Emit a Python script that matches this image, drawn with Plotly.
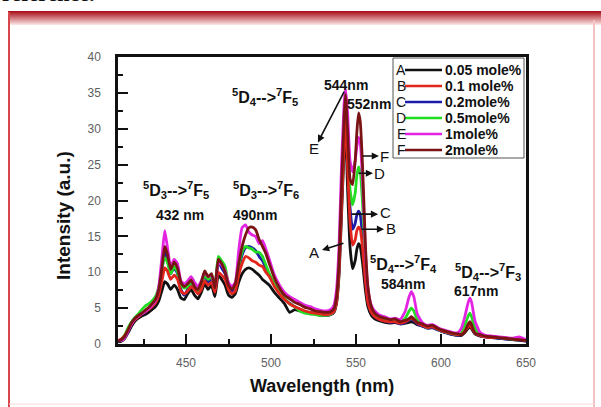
import plotly.graph_objects as go

# ---------------- data ----------------
wavelength = [410,412,414,416,418,420,422,424,426,428,430,432,434,436,437.5,439,441,443,445,447,
              449,451,453,455,457,459,461,463,465,467,469,471,473,475,477,479,481,483,485,487,
              489,491,493,495,497,499,502,505,508,511,514,517,520,523,526,529,532,535,537,538.5,
              540,541.5,543,543.8,545,546.5,548,549.5,550.5,551.5,552.5,554,555.5,557,559,561,
              564,567,570,573,576,579,581,582.5,584,586,589,592,595,598,601,604,607,610,612,614,
              616,617,618,620,623,626,630,634,638,642,646,650]

series_A = [0.3,0.4,0.8,1.6,2.5,3.2,3.6,3.9,4.1,4.4,4.8,5.2,6.0,7.6,8.7,8.4,7.6,8.2,7.6,6.4,
            6.2,7.0,7.6,6.8,6.3,7.2,8.4,7.6,8.2,6.6,9.6,9.0,8.2,6.8,6.5,7.0,8.6,9.8,10.4,10.6,
            10.4,10.0,9.6,9.0,8.6,8.2,7.2,6.4,5.6,4.4,4.8,4.6,4.4,4.2,4.2,4.0,4.0,4.1,4.4,5.6,
            9.5,18,27,30.5,22,13.5,10.5,11.6,13.2,14,13.6,11,7.6,5.2,4.0,3.5,
            3.2,3.0,2.9,3.0,2.8,2.9,3.0,3.1,3.0,2.7,2.5,2.2,2.3,2.0,1.7,1.5,1.3,1.2,1.2,1.6,
            2.2,2.4,2.1,1.4,1.1,1.0,0.9,0.8,0.7,0.6,0.5,0.4]

series_B = [0.5,0.7,1.2,2.0,2.8,3.4,3.8,4.2,4.5,4.8,5.2,5.7,6.8,9.0,10.6,10.2,9.0,9.6,9.0,7.4,
            7.0,7.4,8.0,7.6,7.0,7.6,8.8,8.2,8.6,7.2,10.0,9.6,9.0,7.6,7.0,7.4,9.6,11.2,12.2,12.0,
            11.6,11.4,11.0,10.8,10.0,9.4,8.0,7.0,6.2,5.6,5.2,4.9,4.6,4.4,4.3,4.2,4.1,4.2,4.5,5.8,
            10,19,28,31.5,25,17,13.8,14.5,15.8,16.3,16,13,8.8,5.8,4.4,3.8,
            3.4,3.2,3.1,3.1,2.9,3.1,3.4,3.6,3.4,2.9,2.6,2.3,2.4,2.1,1.8,1.6,1.4,1.3,1.3,1.8,
            2.4,2.6,2.3,1.5,1.2,1.0,0.9,0.9,0.8,0.7,0.6,0.5]

series_C = [0.4,0.5,1.0,1.9,2.9,3.5,3.9,4.3,4.6,5.0,5.4,6.0,7.4,10.6,12.8,12.0,9.8,10.6,9.8,7.6,
            6.8,7.6,8.6,7.8,7.2,8.2,9.6,8.6,9.0,7.4,11.4,10.6,9.8,8.0,7.4,8.0,10.4,12.4,13.4,13.6,
            13.4,13.0,12.2,11.6,10.6,9.6,8.2,7.2,6.2,5.7,5.2,4.8,4.5,4.4,4.2,4.1,4.0,4.1,4.5,6.0,
            10.5,20,29,32.5,27,19,16,16.8,18,18.5,18,14.5,9.5,6,4.4,3.8,
            3.4,3.2,3.0,3.1,2.8,3.0,3.3,3.5,3.3,2.8,2.5,2.2,2.3,2.0,1.7,1.5,1.3,1.2,1.3,1.9,
            2.6,2.8,2.5,1.5,1.2,1.0,0.9,0.8,0.7,0.7,0.6,0.4]

series_D = [0.4,0.7,1.3,2.3,3.1,3.7,4.2,4.8,5.3,5.6,6.0,6.6,8.0,10.8,12.0,11.4,9.8,10.8,10.0,8.2,
            7.8,8.0,8.6,8.0,7.4,8.2,9.6,9.0,9.4,8.0,12.2,11.6,10.8,8.4,7.8,8.0,10.8,12.8,13.6,13.4,
            13.2,12.8,12.8,12.2,11.0,9.8,8.4,7.2,6.4,5.6,5.2,4.6,4.3,4.2,4.1,4.0,4.0,4.1,4.6,6.2,
            11,21,30,33.5,29,21.5,19.4,21,23.5,24.7,24,19,11.5,6.8,4.8,4.0,
            3.6,3.4,3.2,3.3,3.0,3.6,4.5,5.0,4.6,3.4,2.7,2.3,2.5,2.1,1.8,1.6,1.4,1.3,1.5,2.6,
            3.9,4.3,3.8,2.2,1.3,1.1,1.0,0.9,0.8,0.7,0.7,0.5]

series_E = [0.5,0.5,0.9,1.8,2.8,3.5,3.9,4.2,4.5,4.9,5.4,6.0,8.0,12.5,15.8,13.6,10.8,11.8,11.2,8.8,
            8.4,8.8,9.4,8.6,8.0,8.8,10.0,9.4,9.6,8.0,11.4,11.0,10.2,8.6,8.0,8.6,13.0,16.2,16.6,15.6,
            15.2,15.0,14.0,14.4,13.2,11.8,9.6,8.2,7.2,6.6,6.2,5.8,5.4,5.2,4.9,4.7,4.6,4.8,5.4,7.5,
            13.5,25,33.5,35.6,32.5,25.5,24,25.5,27.5,28.8,28,22,13,7.8,5.4,4.6,
            4.0,3.8,3.5,3.6,3.4,4.6,6.4,7.3,6.6,4.2,3.0,2.6,2.7,2.3,2.0,1.8,1.6,1.6,2.2,3.8,
            5.8,6.4,5.8,3.2,1.6,1.2,1.1,1.0,0.9,0.8,1.0,0.6]

series_F = [0.4,0.6,1.1,2.0,3.0,3.6,4.0,4.3,4.7,5.1,5.6,6.2,7.6,11.0,13.6,12.6,10.4,11.4,10.6,8.6,
            8.0,8.4,8.9,8.0,7.6,8.6,10.2,9.4,9.8,7.8,11.8,11.2,10.0,8.2,7.6,8.4,11.2,13.6,15.2,16.2,
            16.3,15.9,14.6,13.6,12.6,11.2,9.2,7.8,6.8,6.3,5.8,5.5,5.1,4.9,4.6,4.5,4.4,4.5,4.9,6.5,
            11.5,22,31.5,34.8,30,23,22.2,25.5,29.5,32.2,31,24,14,8,5.2,4.3,
            3.8,3.6,3.4,3.5,3.1,3.3,3.5,3.8,3.5,3.0,2.8,2.5,2.6,2.2,1.9,1.7,1.5,1.4,1.3,1.7,
            2.8,3.1,2.7,1.5,1.3,1.1,1.0,0.9,0.8,0.7,0.6,0.5]

letters = ["A", "B", "C", "D", "E", "F"]
names = ["0.05 mole%", "0.1 mole%", "0.2mole%", "0.5mole%", "1mole%", "2mole%"]
colors = ["#111111", "#e3261d", "#1c1ca8", "#22dd22", "#e324e3", "#7a1414"]
all_series = [series_A, series_B, series_C, series_D, series_E, series_F]

x_ticks = [450, 500, 550, 600, 650]
y_ticks = [0, 5, 10, 15, 20, 25, 30, 35, 40]

# ---------------- geometry helpers ----------------
W, H = 601, 407
L, R, T, B = 118, 526, 57, 344


def px(p):
    return (p - L) / (R - L)


def py(p):
    return (B - p) / (B - T)


fig = go.Figure()
draw_order = [0, 2, 3, 1, 4, 5]
for i in draw_order:
    fig.add_trace(go.Scatter(x=wavelength, y=all_series[i], mode="lines", name=names[i],
                             line=dict(color=colors[i], width=2.8, shape="spline", smoothing=0.5),
                             showlegend=False))

FONT = "Arial, Liberation Sans, sans-serif"
ann = []
shapes = []


def tr(a, b, c, d):
    return "<b><sup>%s</sup>D<sub>%s</sub>--&gt;<sup>%s</sup>F<sub>%s</sub></b>" % (a, b, c, d)


labels = [
    (tr(5, 4, 7, 5), 496.5, 34.4, 16),
    (tr(5, 3, 7, 5), 444.0, 21.4, 16),
    ("<b>432 nm</b>", 446.5, 18.0, 14),
    (tr(5, 3, 7, 6), 497.0, 21.4, 16),
    ("<b>490nm</b>", 490.6, 18.0, 14),
    ("<b>544nm</b>", 544.1, 36.1, 14),
    ("<b>552nm</b>", 557.6, 33.4, 14),
    (tr(5, 4, 7, 4), 578.2, 11.1, 16),
    ("<b>584nm</b>", 577.6, 8.4, 14),
    (tr(5, 4, 7, 3), 627.6, 10.1, 16),
    ("<b>617nm</b>", 620.6, 7.4, 14),
]
for txt, xx, yy, fs in labels:
    ann.append(dict(x=xx, y=yy, xref="x", yref="y", text=txt, showarrow=False,
                    xanchor="center", yanchor="middle",
                    font=dict(family=FONT, size=fs, color="#111111")))

# arrows: (head_x, head_y, tail_x, tail_y, letter, letter_x, letter_y)
arrows = [
    (527.6, 28.1, 543.5, 35.4, "E", 525.5, 27.2),
    (563.5, 26.2, 553.0, 26.2, "F", 567.0, 26.2),
    (560.0, 23.8, 550.6, 23.8, "D", 563.8, 23.8),
    (563.0, 18.1, 546.5, 18.1, "C", 567.2, 18.3),
    (566.5, 16.0, 552.4, 16.0, "B", 570.4, 16.1),
    (530.0, 13.1, 543.5, 14.1, "A", 525.0, 12.8),
]
for hx, hy, tx, ty, lt, lx, ly in arrows:
    ann.append(dict(x=hx, y=hy, ax=tx, ay=ty, xref="x", yref="y", axref="x", ayref="y",
                    text="", showarrow=True, arrowhead=2, arrowsize=0.9, arrowwidth=1.6,
                    arrowcolor="#111111"))
    ann.append(dict(x=lx, y=ly, xref="x", yref="y", text=lt, showarrow=False,
                    xanchor="center", yanchor="middle",
                    font=dict(family=FONT, size=15, color="#111111")))

# custom legend
shapes.append(dict(type="rect", xref="paper", yref="paper", x0=px(393), x1=px(524),
                   y0=py(158), y1=py(58), line=dict(color="#555555", width=1),
                   fillcolor="white", layer="above"))
row_y = [70, 86, 102, 118, 134, 150]
for i in range(6):
    yy = py(row_y[i])
    shapes.append(dict(type="line", xref="paper", yref="paper", x0=px(405), x1=px(442),
                       y0=yy, y1=yy, line=dict(color=colors[i], width=2.4), layer="above"))
    ann.append(dict(x=px(401), y=yy, xref="paper", yref="paper", text=letters[i],
                    showarrow=False, xanchor="center", yanchor="middle",
                    font=dict(family=FONT, size=14, color="#111111")))
    ann.append(dict(x=px(443), y=yy, xref="paper", yref="paper", text="<b>" + names[i] + "</b>",
                    showarrow=False, xanchor="left", yanchor="middle",
                    font=dict(family=FONT, size=14, color="#111111")))

# page frame (red band + borders)
top_c = (168, 18, 28)
bot_c = (250, 225, 225)
for k in range(14):
    f = k / 13.0
    c = tuple(int(top_c[j] + (bot_c[j] - top_c[j]) * f) for j in range(3))
    shapes.append(dict(type="rect", xref="paper", yref="paper", x0=px(8), x1=px(601),
                       y0=py(12 + k), y1=py(11 + k), line=dict(width=0),
                       fillcolor="rgb(%d,%d,%d)" % c, layer="below"))
shapes.append(dict(type="line", xref="paper", yref="paper", x0=px(9), x1=px(9),
                   y0=py(407), y1=py(12), line=dict(color="#d8474d", width=2)))
shapes.append(dict(type="line", xref="paper", yref="paper", x0=px(594), x1=px(594),
                   y0=py(407), y1=py(20), line=dict(color="#f4c4c4", width=2)))
shapes.append(dict(type="line", xref="paper", yref="paper", x0=px(9), x1=px(594),
                   y0=py(404), y1=py(404), line=dict(color="#f6d6d6", width=1)))

# cut-off text at the very top
ann.append(dict(x=px(0), y=py(8), xref="paper", yref="paper", text="<b>reference.</b>",
                showarrow=False, xanchor="left", yanchor="bottom",
                font=dict(family="Liberation Serif, serif", size=22, color="#111111")))

# axis titles
ann.append(dict(x=px(322), y=py(386), xref="paper", yref="paper", text="<b>Wavelength (nm)</b>",
                showarrow=False, xanchor="center", yanchor="middle",
                font=dict(family=FONT, size=18, color="#111111")))
ann.append(dict(x=px(63), y=py(216), xref="paper", yref="paper", text="<b>Intensity (a.u.)</b>",
                showarrow=False, textangle=-90, xanchor="center", yanchor="middle",
                font=dict(family=FONT, size=19, color="#111111")))

axis_common = dict(showline=True, linecolor="#111111", linewidth=2.5, mirror=True,
                   ticks="inside", ticklen=10, tickwidth=2, tickcolor="#111111",
                   showgrid=False, zeroline=False,
                   tickfont=dict(family=FONT, size=12, color="#606060"))

fig.update_layout(
    width=W, height=H,
    margin=dict(l=L, r=W - R, t=T, b=H - B),
    paper_bgcolor="white", plot_bgcolor="white",
    xaxis=dict(range=[410, 650], tickvals=x_ticks, ticklabelstandoff=6,
               minor=dict(tick0=400, dtick=25, ticks="inside", ticklen=5, tickwidth=2,
                          tickcolor="#111111"),
               **axis_common),
    yaxis=dict(range=[0, 40], tickvals=y_ticks, ticklabelstandoff=12,
               minor=dict(tick0=0, dtick=2.5, ticks="inside", ticklen=5, tickwidth=2,
                          tickcolor="#111111"),
               **axis_common),
    annotations=ann,
    shapes=shapes,
    showlegend=False,
)

fig.write_html("out.html")
